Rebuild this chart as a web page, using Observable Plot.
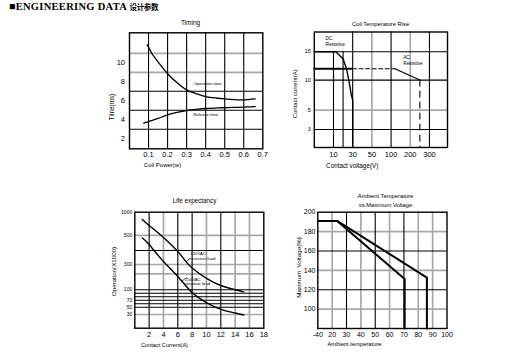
<!DOCTYPE html>
<html>
<head>
<meta charset="utf-8">
<script src="https://cdn.jsdelivr.net/npm/d3@7"></script>
<script src="https://cdn.jsdelivr.net/npm/@observablehq/plot@0.6"></script>
<style>
  html,body{margin:0;padding:0;background:#fff;}
  #page{position:relative;width:527px;height:356px;overflow:hidden;background:#fff;}
  #head{position:absolute;left:9px;top:2px;white-space:nowrap;color:#000;
        font-family:"Liberation Serif","Times New Roman",serif;font-weight:bold;font-size:10.5px;letter-spacing:0.3px;line-height:10px;}
  #head .cjk{font-family:"Noto Sans CJK SC",sans-serif;font-weight:bold;font-size:7.5px;letter-spacing:-0.3px;}
</style>
</head>
<body>
<div id="page"><div id="head">■ENGINEERING DATA <span class="cjk">设计参数</span></div></div>
<script>
// ---------------- DATA ----------------
// Timing
const timingXTicks = [0.1, 0.2, 0.3, 0.4, 0.5, 0.6, 0.7];
const timingYTicks = [2, 4, 6, 8, 10];
const timingGridX = [0.1, 0.2, 0.3, 0.4, 0.5, 0.6];
const timingGridYBlack = [3, 5, 7];
const timingGridYGray = [9, 11];
const operationPower = [0.093, 0.12, 0.15, 0.2, 0.25, 0.3, 0.35, 0.4, 0.45, 0.5, 0.55, 0.6, 0.66];
const operationTime  = [11.9, 10.9, 10.1, 8.85, 7.9, 7.15, 6.75, 6.45, 6.3, 6.2, 6.12, 6.1, 6.2];
const releasePower = [0.075, 0.1, 0.15, 0.2, 0.25, 0.3, 0.35, 0.4, 0.45, 0.5, 0.55, 0.6, 0.66];
const releaseTime  = [3.64, 3.8, 4.15, 4.52, 4.78, 4.98, 5.1, 5.19, 5.24, 5.27, 5.3, 5.33, 5.38];
const timingNotes = ["Operation time", "Release time"];
const timingNoteX = [0.41, 0.4];
const timingNoteY = [7.8, 4.5];

// Coil temperature rise (printed axes are not uniform: breakpoints of the printed scales)
const coilVTicks = [10, 30, 50, 100, 200, 300];
const coilATicks = [3, 5, 10, 15];
const coilVBreaks = [0, 10, 30, 50, 100, 200, 300, 400];
const coilABreaks = [0, 3, 5, 10, 15, 18.5];
const coilGridVBlack = [30, 100, 300];
const coilGridVShort = [10, 20];
const coilGridVGray = [50, 200];
const coilGridABlack = [3, 10, 15];
const coilGridAGray = [5];
const dcVoltage = [0, 12.5, 20, 23.5, 26, 28.5, 30, 30];
const dcCurrent = [15, 15, 13.7, 12, 10, 7.6, 6.7, 0];
const acVoltage = [0, 30, 120, 250, 250];
const acCurrent = [12, 12, 12, 10, 0];
const coilNotes = ["DC\nResistive", "AC\nResistive"];
const coilNoteV = [5.8, 163];
const coilNoteA = [17.8, 14.4];

// Life expectancy
const lifeXTicks = [2, 4, 6, 8, 10, 12, 14, 16, 18];
const lifeYTicks = [1000, 500, 300, 100, 70, 50, 30];
const lifeBreaks = [0, 30, 50, 70, 100, 200, 300, 400, 500, 1000];
const lifeGridXBlack = [2, 6, 8, 12];
const lifeGridXGray = [4, 10, 14, 16];
const lifeGridYBlack = [400, 100, 90, 80, 70, 60, 50];
const lifeGridYGray = [500, 300, 200, 30];
const load120Current = [1.05, 2, 4, 6, 7, 8, 10, 12, 14, 15.2];
const load120Ops     = [846, 715, 486, 393, 329, 262, 171, 127, 100, 94];
const load250Current = [1.05, 2, 4, 6, 8, 10, 12, 14, 15.2];
const load250Ops     = [482, 439, 321, 183, 92, 63, 44, 34, 29];
const lifeNotes = ["120VAC\nresistive load", "250VAC\nresistive load"];
const lifeNoteX = [7.75, 7.0];
const lifeNoteY = [395, 180];
const lifePointerX1 = [7.75, 7.2], lifePointerY1 = [345, 175];
const lifePointerX2 = [7.15, 6.6], lifePointerY2 = [318, 156];

// Ambient temperature vs maximum voltage
const ambXTicks = [-40, 20, 30, 40, 50, 60, 70, 80, 90, 100];
const ambYTicks = [200, 180, 160, 140, 120, 100];
const ambXBreaks = [-40, 20, 100];
const ambGridXBlack = [30, 50, 70];
const ambGridXGray = [20, 40, 60, 80, 90];
const ambGridYBlack = [160, 120];
const ambGridYGray = [180, 140, 100];
const lineATemp = [-40, 23.5, 70.5, 70.5];
const lineAVolt = [191, 191, 131, 80];
const lineBTemp = [23.5, 86, 86];
const lineBVolt = [191, 132.5, 80];

// ---------------- DRAWING ----------------
const FONT = "'Liberation Sans Narrow','Liberation Sans',Arial,sans-serif";
const GRAY = "#a8a8a8";
const GW = 1.7, BW = 1.1, FW = 1.4;
const page = document.getElementById("page");
const pts = (xs, ys) => xs.map((x, i) => ({x, y: ys[i]}));
const at = (fr, s, px, py, o = {}) => Plot.text([s], {text: d => d, frameAnchor: "top-left",
  dx: px - fr.L, dy: py - fr.T, textAnchor: "middle", lineAnchor: "middle", fontSize: 6, fill: "black", ...o});
const id = d => d;
const gx = (arr, color, f = id, o = {}) => Plot.ruleX(arr, {x: d => f(d), stroke: color, strokeWidth: color === GRAY ? GW : BW, ...o});
const gy = (arr, color, f = id, o = {}) => Plot.ruleY(arr, {y: d => f(d), stroke: color, strokeWidth: color === GRAY ? GW : BW, ...o});

function draw(box, fr, cfg) {
  const svg = Plot.plot({
    width: box.w, height: box.h,
    marginLeft: fr.L - box.x, marginRight: box.x + box.w - fr.R,
    marginTop: fr.T - box.y, marginBottom: box.y + box.h - fr.B,
    style: {background: "transparent", fontFamily: FONT, color: "black", overflow: "visible"},
    x: cfg.x, y: cfg.y,
    marks: cfg.marks
  });
  svg.style.position = "absolute";
  svg.style.left = box.x + "px";
  svg.style.top = box.y + "px";
  page.appendChild(svg);
}

// Chart 1: Timing
{
  const box = {x: 95, y: 12, w: 180, h: 163};
  const fr = {L: 129, R: 262.3, T: 32.3, B: 148.3};
  draw(box, fr, {
    x: {domain: [0, 0.7]},
    y: {domain: [0.95, 13.16]},
    marks: [
      gy(timingGridYGray, GRAY),
      gy(timingGridYBlack, "black"),
      gx(timingGridX, "black"),
      Plot.frame({stroke: "black", strokeWidth: FW}),
      Plot.line(pts(operationPower, operationTime), {x: "x", y: "y", curve: "natural", stroke: "black", strokeWidth: 1.3}),
      Plot.line(pts(releasePower, releaseTime), {x: "x", y: "y", curve: "natural", stroke: "black", strokeWidth: 1.3}),
      Plot.text(timingNotes, {x: (d, i) => timingNoteX[i], y: (d, i) => timingNoteY[i], text: d => d, fontSize: 4.3, fill: "black"}),
      Plot.axisX(timingXTicks, {tickSize: 0, tickPadding: 3, fontSize: 7.5, tickFormat: d3.format(".1f"), label: null}),
      Plot.axisY(timingYTicks, {tickSize: 0, tickPadding: 4.5, fontSize: 7.5, label: null}),
      at(fr, "Timing", 190, 22, {fontSize: 6.5}),
      at(fr, "Coil Power(w)", 162, 165, {fontSize: 6}),
      at(fr, "Time(ms)", 111, 106.5, {fontSize: 6.3, rotate: -90})
    ]
  });
}

// Chart 2: Coil Temperature Rise (printed axes: equal spacing per listed voltage, uneven current spacing)
{
  const box = {x: 280, y: 12, w: 180, h: 163};
  const fr = {L: 313.8, R: 447, T: 31.5, B: 147};
  const vPos = d3.scaleLinear(coilVBreaks, coilVBreaks.map((_, i) => i));
  const aPos = d3.scaleLinear(coilABreaks, [0, 0.93, 1.93, 3.49, 4.96, 5.98]);
  const ac = pts(acVoltage, acCurrent);
  const X = d => vPos(d.x), Y = d => aPos(d.y);
  draw(box, fr, {
    x: {domain: [0, 6.94]},
    y: {domain: [0, 5.98]},
    marks: [
      gy(coilGridAGray, GRAY, aPos),
      gx(coilGridVGray, GRAY, vPos),
      gy(coilGridABlack, "black", aPos),
      gx(coilGridVBlack, "black", vPos),
      gx(coilGridVShort, "black", vPos, {y1: aPos(0), y2: aPos(15)}),
      Plot.frame({stroke: "black", strokeWidth: FW}),
      Plot.line(pts(dcVoltage, dcCurrent), {x: X, y: Y, stroke: "black", strokeWidth: 1.4}),
      Plot.line(ac.slice(0, 2), {x: X, y: Y, stroke: "black", strokeWidth: 2.2, strokeDasharray: "4,1.5"}),
      Plot.line(ac.slice(1, 3), {x: X, y: Y, stroke: "black", strokeWidth: 1.1, strokeDasharray: "4,2.5"}),
      Plot.line(ac.slice(2, 4), {x: X, y: Y, stroke: "black", strokeWidth: 1.1}),
      Plot.line(ac.slice(3, 5), {x: X, y: Y, stroke: "black", strokeWidth: 1.1, strokeDasharray: "6,5"}),
      Plot.text(coilNotes, {x: (d, i) => vPos(coilNoteV[i]), y: (d, i) => aPos(coilNoteA[i]), text: d => d, fontSize: 4.8, lineHeight: 1.25, textAnchor: "start", lineAnchor: "top", fill: "black"}),
      Plot.axisX(coilVTicks.map(vPos), {tickSize: 0, tickPadding: 4, fontSize: 7.5, tickFormat: (d, i) => String(coilVTicks[i]), label: null}),
      Plot.axisY(coilATicks.map(aPos), {tickSize: 0, tickPadding: 3.5, fontSize: 5.5, tickFormat: (d, i) => String(coilATicks[i]), label: null}),
      at(fr, "Coil Temperature Rise", 380, 23.3, {fontSize: 5.8}),
      at(fr, "Contact voltage(V)", 351.7, 165, {fontSize: 6.3}),
      at(fr, "Contact current(A)", 295, 93.3, {fontSize: 6, rotate: -90})
    ]
  });
}

// Chart 3: Life expectancy (printed operations axis with uneven spacing)
{
  const box = {x: 95, y: 190, w: 180, h: 166};
  const fr = {L: 134.3, R: 263.3, T: 211.7, B: 327.7};
  const oPos = d3.scaleLinear(lifeBreaks, [0, 13.7, 21, 28, 38.4, 54.4, 63.7, 77.7, 92.9, 115.7]);
  const pointers = lifePointerX1.map((x1, i) => ({x1, y1: oPos(lifePointerY1[i]), x2: lifePointerX2[i], y2: oPos(lifePointerY2[i])}));
  const Y = d => oPos(d.y);
  draw(box, fr, {
    x: {domain: [0, 18]},
    y: {domain: [0, 116]},
    marks: [
      gy(lifeGridYGray, GRAY, oPos),
      gx(lifeGridXGray, GRAY),
      gy(lifeGridYBlack, "black", oPos),
      gx(lifeGridXBlack, "black"),
      Plot.frame({stroke: "black", strokeWidth: FW}),
      Plot.line(pts(load120Current, load120Ops), {x: "x", y: Y, curve: "natural", stroke: "black", strokeWidth: 1.4}),
      Plot.line(pts(load250Current, load250Ops), {x: "x", y: Y, curve: "natural", stroke: "black", strokeWidth: 1.4}),
      Plot.link(pointers, {x1: "x1", y1: "y1", x2: "x2", y2: "y2", stroke: "black", strokeWidth: 0.8}),
      Plot.text(lifeNotes, {x: (d, i) => lifeNoteX[i], y: (d, i) => oPos(lifeNoteY[i]), text: d => d, fontSize: 4.3, lineHeight: 1.15, textAnchor: "start", lineAnchor: "top", fill: "black"}),
      Plot.axisX(lifeXTicks, {tickSize: 0, tickPadding: 3.4, fontSize: 7.5, label: null}),
      Plot.axisY(lifeYTicks.map(oPos), {tickSize: 0, tickPadding: 2.6, fontSize: 5, tickFormat: (d, i) => String(lifeYTicks[i]), label: null}),
      at(fr, "Life expectancy", 194, 200.7, {fontSize: 6.3}),
      at(fr, "Contact Current(A)", 164, 345, {fontSize: 5.6}),
      at(fr, "Operation(X1000)", 114, 271, {fontSize: 6.2, rotate: -90})
    ]
  });
}

// Chart 4: Ambient Temperature vs. Maximum Voltage (printed temperature axis jumps from -40 to 20)
{
  const box = {x: 280, y: 190, w: 180, h: 166};
  const fr = {L: 317.3, R: 446.5, T: 211.7, B: 328};
  const tPos = d3.scaleLinear(ambXBreaks, [0, 1, 9]);
  const X = d => tPos(d.x);
  draw(box, fr, {
    x: {domain: [0, 9]},
    y: {domain: [80, 200]},
    marks: [
      gy(ambGridYGray, GRAY),
      gx(ambGridXGray, GRAY, tPos),
      gy(ambGridYBlack, "black"),
      gx(ambGridXBlack, "black", tPos),
      Plot.frame({stroke: "black", strokeWidth: FW}),
      Plot.line(pts(lineATemp, lineAVolt), {x: X, y: "y", stroke: "black", strokeWidth: 2}),
      Plot.line(pts(lineBTemp, lineBVolt), {x: X, y: "y", stroke: "black", strokeWidth: 2}),
      Plot.axisX(ambXTicks.map(tPos), {tickSize: 0, tickPadding: 3.4, fontSize: 7, tickFormat: (d, i) => String(ambXTicks[i]), label: null}),
      Plot.axisY(ambYTicks, {tickSize: 0, tickPadding: 2.3, fontSize: 7, label: null}),
      at(fr, "Ambient Temperature", 385, 196, {fontSize: 5.8}),
      at(fr, "vs.Maximum Voltage", 385, 205, {fontSize: 5.8}),
      at(fr, "Ambient temperature", 354, 344, {fontSize: 5.8}),
      at(fr, "Maximum  Voltage(%)", 298.3, 267, {fontSize: 6.2, rotate: -90})
    ]
  });
}
</script>
</body>
</html>
